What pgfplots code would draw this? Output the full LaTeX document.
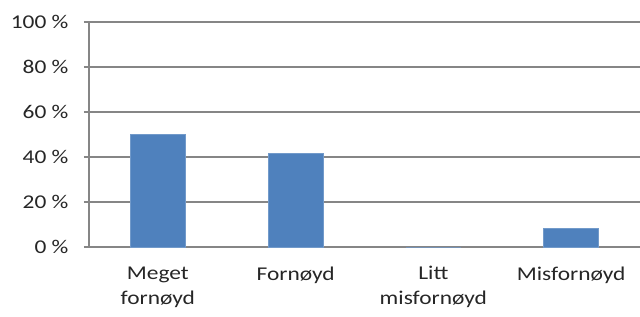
\documentclass[border=0pt]{standalone}
\usepackage{pgfplots}
\pgfplotsset{compat=1.18}
\usepackage{fontspec}
\setmainfont{Carlito}[FakeStretch=1.2]
\definecolor{barblue}{HTML}{4F81BD}
\definecolor{gridgray}{HTML}{868686}
\begin{document}
\begin{tikzpicture}
\begin{axis}[
  scale only axis,
  width=551pt, height=225pt,
  xmin=-0.5, xmax=3.5,
  ymin=0, ymax=100,
  axis lines=left,
  axis line style={-, draw=gridgray, line width=1.2pt},
  ytick={0,20,40,60,80,100},
  yticklabels={0 \%,20 \%,40 \%,60 \%,80 \%,100 \%},
  ymajorgrids,
  grid style={draw=gridgray, line width=1.2pt},
  xtick={0,1,2,3},
  xticklabels={Meget\\fornøyd, Fornøyd, Litt\\misfornøyd, Misfornøyd},
  xticklabel style={align=center, font=\fontsize{19.5}{25}\selectfont, yshift=-11pt, text=black!85},
  yticklabel style={font=\fontsize{19.5}{22}\selectfont, xshift=-12pt, text=black!85},
  x tick style={draw=none},
  extra x ticks={-0.5,0.5,1.5,2.5},
  extra x tick labels={},
  extra x tick style={tick style={draw=gridgray, line width=1.2pt}, major tick length=5pt, tick align=outside, grid=none},
  y tick style={draw=gridgray, line width=1.2pt},
  major tick length=5pt,
  tick align=outside,
  tick pos=left,
  ybar, bar width=55pt,
  clip=false,
]
\addplot[fill=barblue, draw=barblue!80!white] coordinates {(0,50) (1,41.67) (2,0) (3,8.33)};
\coordinate (o) at (rel axis cs:0,0);
\end{axis}
\pgfresetboundingbox
\path[use as bounding box] (o) ++(-89pt,-69pt) rectangle ++(640pt,316pt);
\end{tikzpicture}
\end{document}
